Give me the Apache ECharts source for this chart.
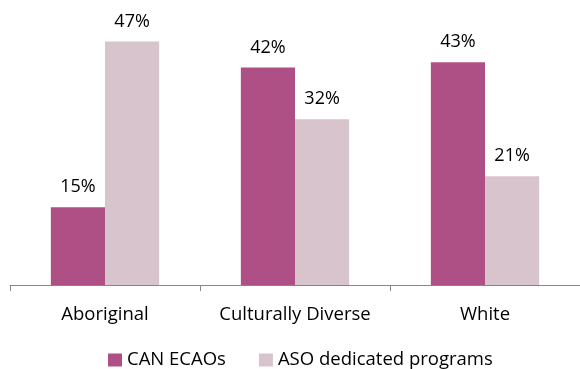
<!DOCTYPE html>
<html><head><meta charset="utf-8">
<script src="https://cdn.jsdelivr.net/npm/echarts@6/dist/echarts.min.js"></script>
<style>html,body{margin:0;padding:0;background:#fff}#c{width:580px;height:369px}</style>
</head><body><div id="c"></div>
<script>
var categories = ["Aboriginal", "Culturally Diverse", "White"];
var seriesNames = ["CAN ECAOs", "ASO dedicated programs"];
var canEcaos = [15, 42, 43];
var asoPrograms = [47, 32, 21];
var FONT = "Open Sans";
var chart = echarts.init(document.getElementById('c'));
var labelStyle = {show: true, position: 'top', distance: 11, formatter: '{c}%', fontFamily: FONT, fontSize: 18, color: '#000'};
chart.setOption({
  animation: false,
  textStyle: {fontFamily: FONT},
  grid: {left: 10, right: -3, top: 26, bottom: 84, containLabel: false},
  legend: {
    data: seriesNames, left: 108, top: 349, padding: 0, itemWidth: 14, itemHeight: 13, itemGap: 33,
    icon: 'rect', textStyle: {fontFamily: FONT, fontSize: 18.5, color: '#000', lineHeight: 22}
  },
  xAxis: {
    type: 'category', data: categories,
    axisLine: {lineStyle: {color: '#868686'}},
    axisTick: {show: true, length: 6, lineStyle: {color: '#868686'}},
    axisLabel: {interval: 0, fontFamily: FONT, fontSize: 18.5, color: '#000', margin: 20}
  },
  yAxis: {type: 'value', min: 0, max: 50, show: false, splitLine: {show: false}},
  series: [
    {name: seriesNames[0], type: 'bar', data: canEcaos, barWidth: '28.5%', barGap: '0%', itemStyle: {color: '#AE4F85'}, label: labelStyle},
    {name: seriesNames[1], type: 'bar', data: asoPrograms, barWidth: '28.5%', barGap: '0%', itemStyle: {color: '#D8C4CC'}, label: labelStyle}
  ]
});
</script></body></html>
